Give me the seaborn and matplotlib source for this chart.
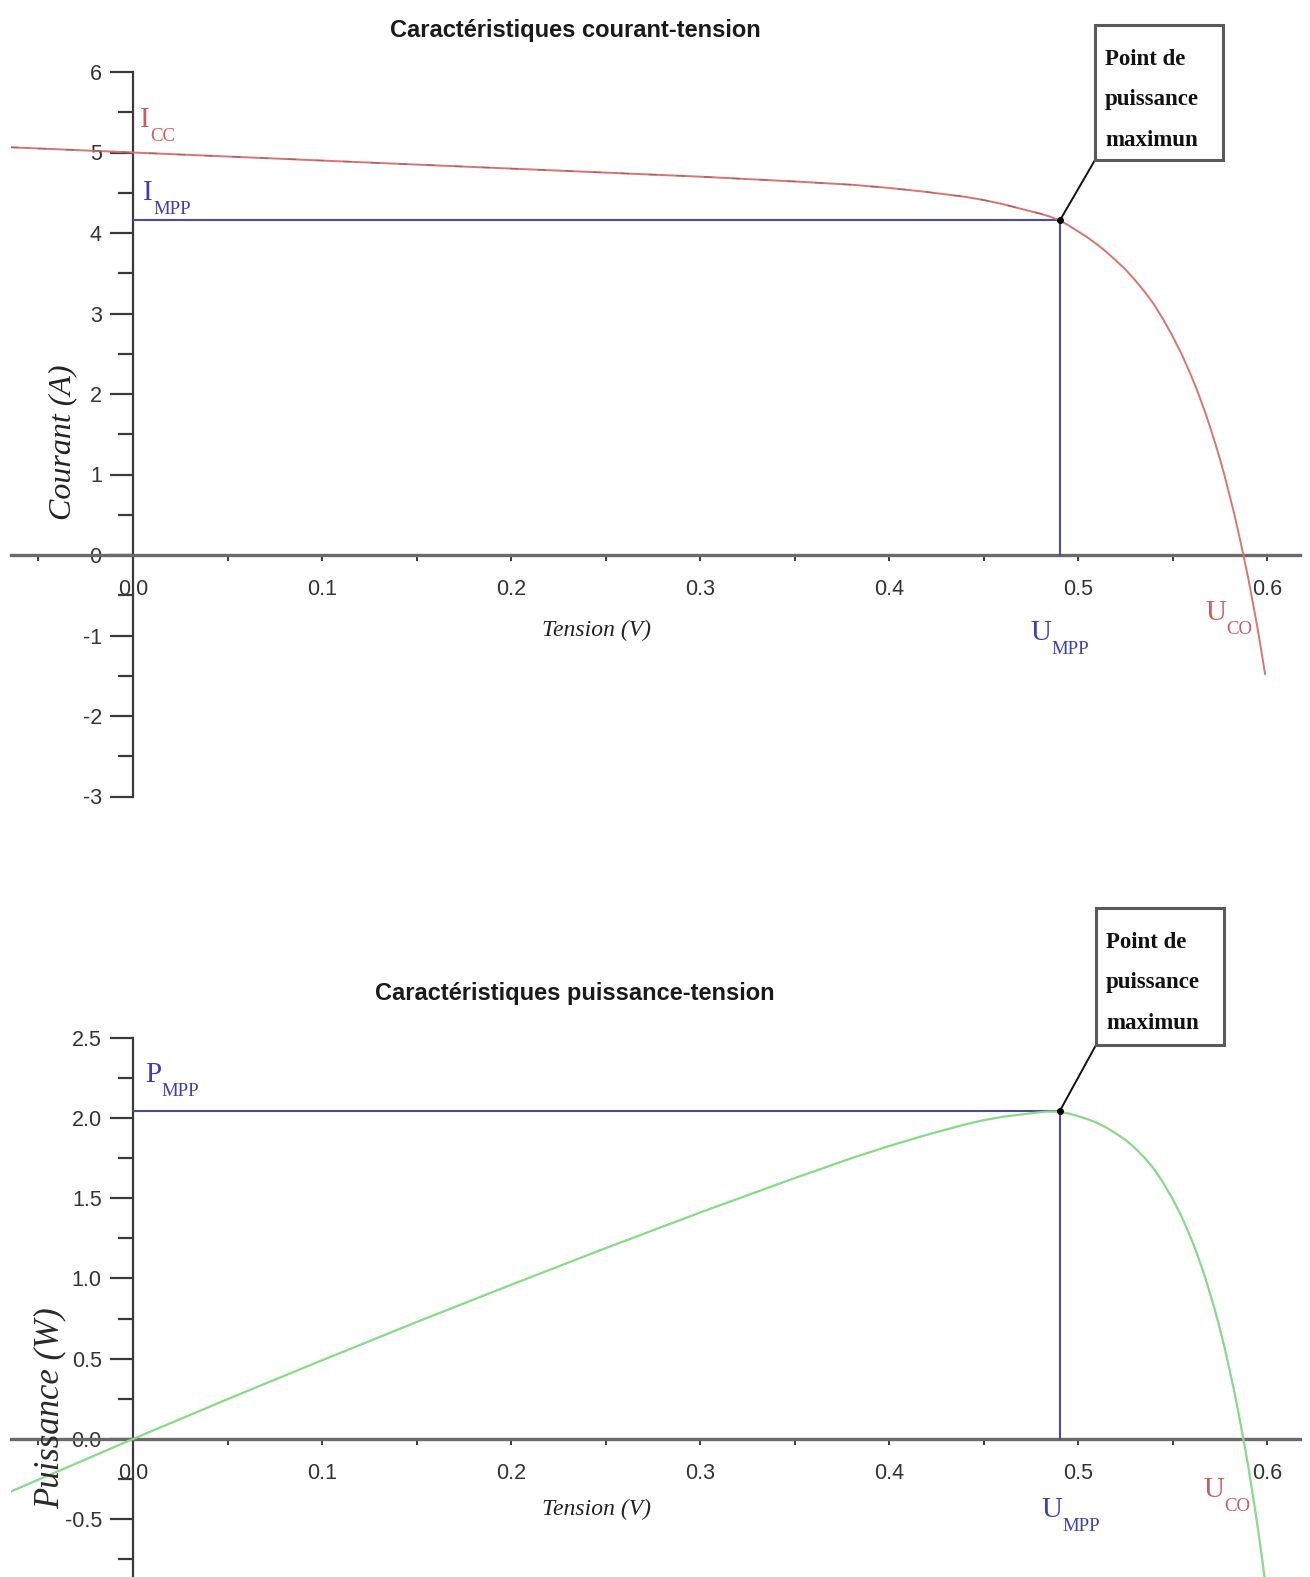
import matplotlib
matplotlib.use("Agg")
import matplotlib.pyplot as plt
from matplotlib.patches import Rectangle
from matplotlib.ticker import FixedLocator
import pandas as pd
import seaborn as sns

# ---------------- data ----------------
tension = [-0.065, 0.0, 0.05, 0.10, 0.15, 0.20, 0.25, 0.30, 0.35, 0.38, 0.40, 0.42,
           0.44, 0.45, 0.46, 0.47, 0.475, 0.48, 0.485, 0.49, 0.495, 0.50, 0.505, 0.51,
           0.515, 0.52, 0.525, 0.53, 0.535, 0.54, 0.545, 0.55, 0.555, 0.56, 0.5625,
           0.565, 0.5675, 0.57, 0.5725, 0.575, 0.5775, 0.58, 0.5825, 0.585, 0.5875,
           0.59, 0.5925, 0.595, 0.597, 0.599]
courant = [5.065, 5.00, 4.95, 4.90, 4.85, 4.80, 4.75, 4.70, 4.64, 4.60, 4.56, 4.51,
           4.45, 4.41, 4.36, 4.30, 4.27, 4.24, 4.205, 4.16, 4.095, 4.02, 3.945, 3.86,
           3.765, 3.66, 3.55, 3.42, 3.278, 3.12, 2.931, 2.72, 2.488, 2.22, 2.077,
           1.92, 1.758, 1.58, 1.397, 1.20, 0.988, 0.76, 0.526, 0.27, 0.0,
           -0.28, -0.59, -0.91, -1.19, -1.48]
puissance = [-0.329, 0.0, 0.248, 0.490, 0.728, 0.960, 1.188, 1.410, 1.624, 1.748, 1.824, 1.894,
             1.958, 1.985, 2.006, 2.021, 2.028, 2.035, 2.039, 2.038, 2.027, 2.010, 1.992, 1.969,
             1.939, 1.903, 1.864, 1.813, 1.754, 1.685, 1.597, 1.496, 1.381, 1.243, 1.168,
             1.085, 0.998, 0.901, 0.800, 0.690, 0.571, 0.441, 0.306, 0.158, 0.0,
             -0.165, -0.349, -0.541, -0.710, -0.887]

U_MPP = 0.4905
I_MPP = 4.16
P_MPP = 2.045

x_ticks = [0.0, 0.1, 0.2, 0.3, 0.4, 0.5, 0.6]
x_labels = ["0.0", "0.1", "0.2", "0.3", "0.4", "0.5", "0.6"]
x_minor = [-0.05, 0.05, 0.15, 0.25, 0.35, 0.45, 0.55]

y1_ticks = [-3, -2, -1, 0, 1, 2, 3, 4, 5, 6]
y1_labels = ["-3", "-2", "-1", "0", "1", "2", "3", "4", "5", "6"]
y1_minor = [-2.5, -1.5, -0.5, 0.5, 1.5, 2.5, 3.5, 4.5, 5.5]

y2_ticks = [-0.5, 0.0, 0.5, 1.0, 1.5, 2.0, 2.5]
y2_labels = ["-0.5", "0.0", "0.5", "1.0", "1.5", "2.0", "2.5"]
y2_minor = [-0.75, -0.25, 0.25, 0.75, 1.25, 1.75, 2.25]

title1 = "Caractéristiques courant-tension"
title2 = "Caractéristiques puissance-tension"
box_lines = ["Point de", "puissance", "maximun"]

# ---------------- style ----------------
sns.set_style("white")
plt.rcParams["font.family"] = ["Liberation Sans", "DejaVu Sans"]
SERIF = ["Liberation Serif", "DejaVu Serif"]

W, H = 1310, 1577
fig = plt.figure(figsize=(W / 100, H / 100), dpi=100)
fig.patch.set_facecolor("white")


def fx(px):
    return px / W


def fy(py):
    return 1 - py / H


X0, XS = 133, 1890.0
xlim = ((11 - X0) / XS, (1300 - X0) / XS)

# top axes: 0 A at y=555 px, 80.5 px / A
ax1 = fig.add_axes([fx(11), fy(555 + 3 * 80.5), 1289 / W, 9 * 80.5 / H])
# bottom axes: 0 W at y=1439 px, 160.6 px / W
y2_bottom = -(1577 - 1439) / 160.6
ax2 = fig.add_axes([fx(11), 0, 1289 / W, (1577 - (1439 - 2.5 * 160.6)) / H])

df = pd.DataFrame({"Tension": tension, "Courant": courant, "Puissance": puissance})

RED = "#da7470"
GREEN = "#88da88"
BLUE = "#4b4ba3"
LRED = "#cc5c5c"
LBLUE = "#3d3db5"


def style(ax, ylim, yt, yl, ym):
    ax.set_xlim(*xlim)
    ax.set_ylim(*ylim)
    ax.patch.set_visible(False)
    for s in ["top", "right"]:
        ax.spines[s].set_visible(False)
    ax.spines["left"].set_position(("data", 0))
    ax.spines["bottom"].set_position(("data", 0))
    ax.spines["left"].set_color("#3a3a3a")
    ax.spines["left"].set_linewidth(1.6)
    ax.spines["bottom"].set_color("#6a6a6a")
    ax.spines["bottom"].set_linewidth(2.4)
    ax.spines["left"].set_zorder(1)
    ax.spines["bottom"].set_zorder(1)
    ax.set_xticks(x_ticks)
    ax.set_xticklabels(x_labels)
    ax.xaxis.set_minor_locator(FixedLocator(x_minor))
    ax.set_yticks(yt)
    ax.set_yticklabels(yl)
    ax.yaxis.set_minor_locator(FixedLocator(ym))
    ax.tick_params(axis="y", which="major", direction="out", length=16.5, width=1.6,
                   pad=6, labelsize=15.5, color="#3a3a3a", labelcolor="#333333", left=True)
    ax.tick_params(axis="y", which="minor", direction="out", length=10.8, width=1.6,
                   color="#3a3a3a", left=True)
    ax.tick_params(axis="x", which="both", direction="out", length=4.3, width=1.4,
                   pad=13, labelsize=15.5, color="#3a3a3a", labelcolor="#333333", bottom=True)
    ax.set_xlabel("")
    ax.set_ylabel("")


# ---------------- top: courant-tension ----------------
ax1.plot([0, U_MPP], [I_MPP, I_MPP], color=BLUE, lw=1.5, zorder=2)
ax1.plot([U_MPP, U_MPP], [0, I_MPP], color=BLUE, lw=1.5, zorder=2)
sns.lineplot(data=df, x="Tension", y="Courant", ax=ax1, color=RED, lw=1.4,
             sort=False, estimator=None, zorder=3)
flat = df[df["Tension"] <= 0.49]
sns.lineplot(data=flat, x="Tension", y="Courant", ax=ax1, color="#555555", lw=1.0,
             alpha=0.45, dashes=(6, 14), sort=False, estimator=None, zorder=4)
ax1.plot([U_MPP], [I_MPP], "o", ms=4, color="black", zorder=5)
style(ax1, (-3, 6), y1_ticks, y1_labels, y1_minor)

# ---------------- bottom: puissance-tension ----------------
ax2.plot([0, U_MPP], [P_MPP, P_MPP], color=BLUE, lw=1.5, zorder=2)
ax2.plot([U_MPP, U_MPP], [0, P_MPP], color=BLUE, lw=1.5, zorder=2)
sns.lineplot(data=df, x="Tension", y="Puissance", ax=ax2, color=GREEN, lw=1.6,
             sort=False, estimator=None, zorder=3)
ax2.plot([U_MPP], [P_MPP], "o", ms=4, color="black", zorder=5)
style(ax2, (y2_bottom, 2.5), y2_ticks, y2_labels, y2_minor)

# ---------------- titles and axis labels ----------------
for (t, y) in [(title1, 31), (title2, 993)]:
    fig.text(fx(575), fy(y), t, ha="center", va="center", fontsize=17,
             fontweight="bold", color="#1a1a1a")

for y in [630, 1509]:
    fig.text(fx(596), fy(y), "Tension (V)", ha="center", va="center", fontsize=17,
             family=SERIF, style="italic", color="#222222")
fig.text(fx(63), fy(442), "Courant (A)", ha="center", va="center", rotation=90,
         fontsize=23, family=SERIF, style="italic", color="#222222")
fig.text(fx(50), fy(1408), "Puissance (W)", ha="center", va="center", rotation=90,
         fontsize=25, family=SERIF, style="italic", color="#2a2a2a")


# ---------------- subscript labels ----------------
def sub_label(x, y, main, sub, color, ms=21, ss=13.5):
    t = fig.text(fx(x), fy(y), main, ha="left", va="baseline", fontsize=ms,
                 family=SERIF, color=color)
    ax1.annotate(sub, xy=(1, 0), xycoords=t, xytext=(0.3, 3.5), textcoords="offset points",
                 ha="left", va="top", fontsize=ss, family=SERIF, color=color,
                 annotation_clip=False)


sub_label(140, 127, "I", "CC", LRED)
sub_label(143, 200, "I", "MPP", LBLUE)
sub_label(1030, 640, "U", "MPP", LBLUE)
sub_label(1205, 620, "U", "CO", LRED)
sub_label(145, 1082, "P", "MPP", LBLUE)
sub_label(1041, 1517, "U", "MPP", LBLUE)
sub_label(1203, 1497, "U", "CO", LRED)


# ---------------- "Point de puissance maximun" boxes ----------------
def mpp_box(ax, x0, y0, x1, y1, tx, baselines, point):
    fig.add_artist(Rectangle((fx(x0), fy(y1)), (x1 - x0) / W, (y1 - y0) / H,
                             transform=fig.transFigure, facecolor="white",
                             edgecolor="#5a5a5a", lw=2.2, zorder=10))
    for line, b in zip(box_lines, baselines):
        fig.text(fx(tx), fy(b), line, ha="left", va="baseline", fontsize=16.5,
                 fontweight="bold", family=SERIF, color="#111111", zorder=11)
    ax.annotate("", xy=point, xycoords="data", xytext=(fx(x0), fy(y1)),
                textcoords="figure fraction",
                arrowprops=dict(arrowstyle="-", color="#111111", lw=1.4,
                                shrinkA=0, shrinkB=0),
                annotation_clip=False)


mpp_box(ax1, 1095, 25, 1223, 160, 1105, [65, 105, 146], (U_MPP, I_MPP))
mpp_box(ax2, 1096, 908, 1224, 1045, 1106, [948, 988, 1029], (U_MPP, P_MPP))

fig.savefig("out.png", dpi=100, facecolor="white")
